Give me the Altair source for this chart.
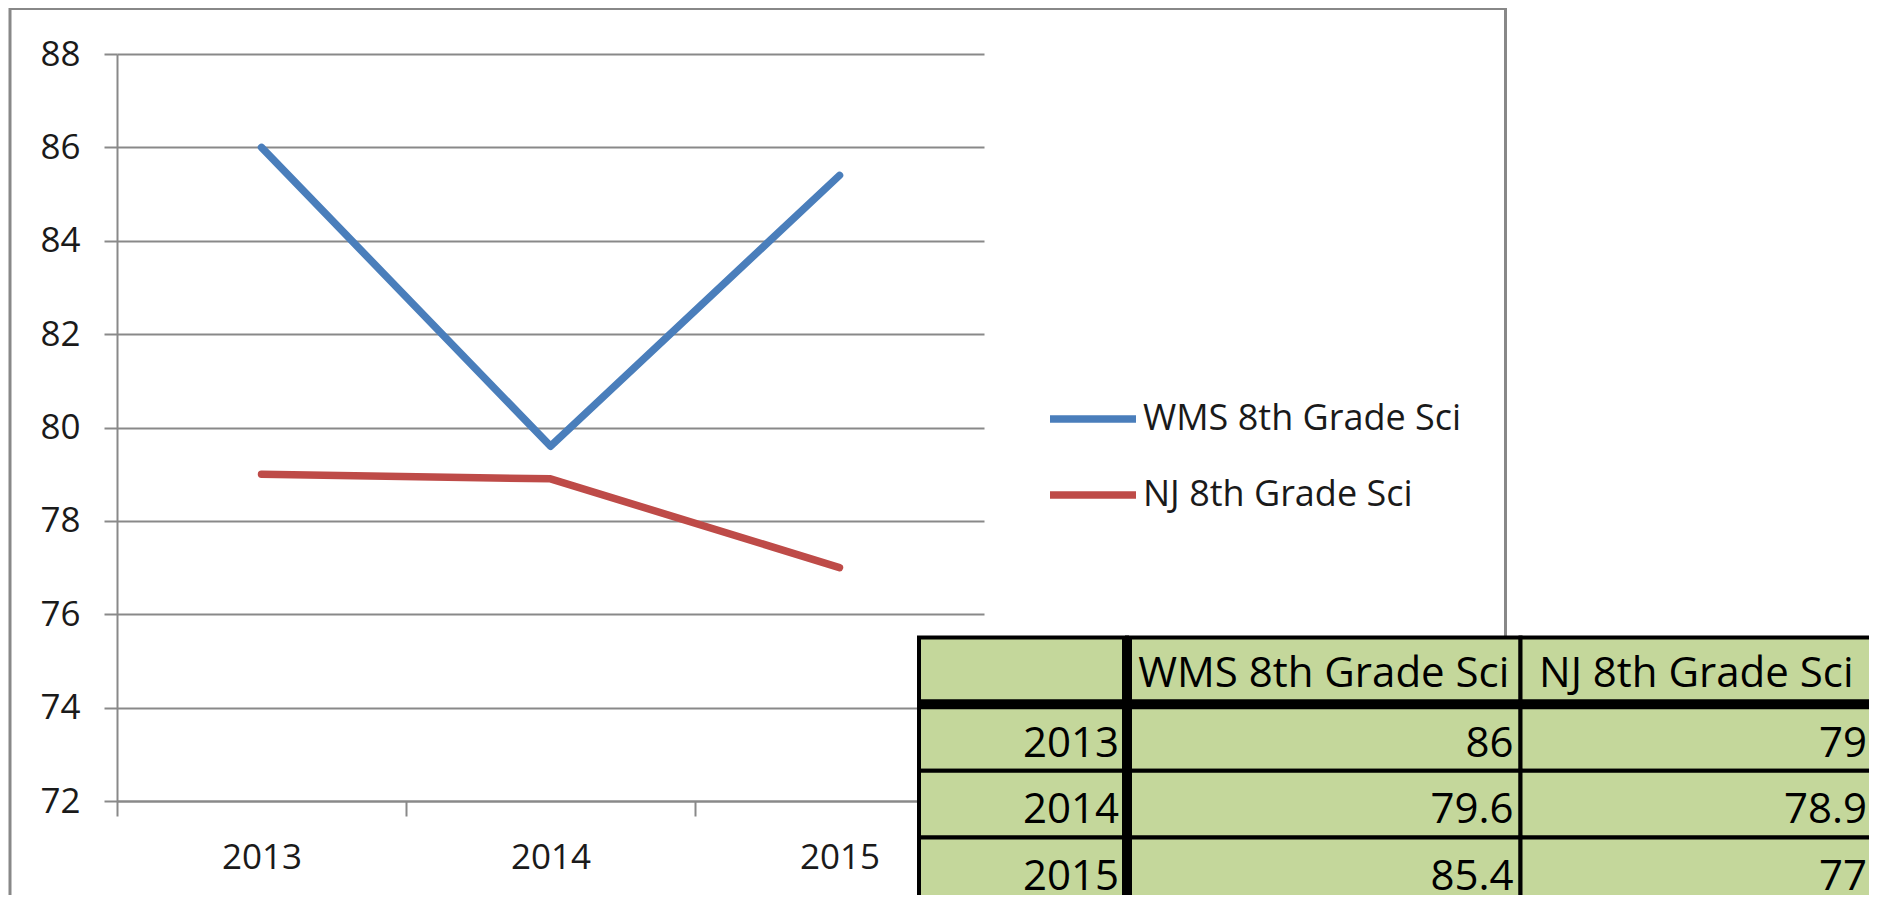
import altair as alt
import pandas as pd

# ---------------- data ----------------
YEARS = ["2013", "2014", "2015"]
SERIES = ["WMS 8th Grade Sci", "NJ 8th Grade Sci"]
WMS_VALUES = [86, 79.6, 85.4]
NJ_VALUES = [79, 78.9, 77]
Y_TICKS = [72, 74, 76, 78, 80, 82, 84, 86, 88]
HEADER_ROW = "header"

# ---------------- styles / layout ----------------
FONT = "Open Sans"
TXT = "#1a1a1a"
GRID = "#898989"
COLORS = ["#4A7EBB", "#BE4B48"]
TABLE_FILL = "#C4D79B"
PLOT_W, PLOT_H = 867, 747
TABLE_COL_EDGES = [0, 208, 601.5, 961]
TABLE_X_RANGE = [802, 1763]
TABLE_Y_RANGE = [583.5, 850]

# ---------------- line chart ----------------
line_df = pd.DataFrame({
    "Year": YEARS * 2,
    "Series": [SERIES[0]] * len(YEARS) + [SERIES[1]] * len(YEARS),
    "Value": WMS_VALUES + NJ_VALUES,
})

lines = alt.Chart(line_df).mark_line(
    strokeWidth=7.5, strokeCap="round", strokeJoin="round"
).encode(
    x=alt.X(
        "Year:N", sort=YEARS,
        scale=alt.Scale(type="band", paddingInner=0, paddingOuter=0),
        axis=alt.Axis(
            title=None, labelAngle=0, tickBand="extent", tickSize=15,
            tickColor=GRID, tickWidth=2, domainColor=GRID, domainWidth=2,
            labelFont=FONT, labelFontSize=35, labelColor=TXT, labelPadding=24,
            grid=False,
        ),
    ),
    y=alt.Y(
        "Value:Q",
        scale=alt.Scale(domain=[Y_TICKS[0], Y_TICKS[-1]], nice=False, zero=False),
        axis=alt.Axis(
            title=None, values=Y_TICKS, tickSize=13, tickColor=GRID, tickWidth=2,
            domainColor=GRID, domainWidth=2, grid=True, gridColor=GRID,
            gridWidth=2, labelFont=FONT, labelFontSize=35, labelColor=TXT,
            labelPadding=24,
        ),
    ),
    color=alt.Color(
        "Series:N", sort=SERIES,
        scale=alt.Scale(domain=SERIES, range=COLORS),
        legend=alt.Legend(
            title=None, orient="none", legendX=929, legendY=345,
            direction="vertical", symbolType="stroke", symbolSize=7396,
            symbolStrokeWidth=7.5, clipHeight=40, rowPadding=36,
            labelFont=FONT, labelFontSize=36, labelColor=TXT, labelOffset=3,
            labelLimit=800, padding=0,
        ),
    ),
)

# ---------------- chart frame ----------------
frame = alt.Chart(pd.DataFrame({"f": [0]})).mark_rect(
    fillOpacity=0, stroke="#888888", strokeWidth=3
).encode(
    x=alt.value(-107), x2=alt.value(1388.5), y=alt.value(-45.5), y2=alt.value(980)
)

# ---------------- data table ----------------
TABLE_ROWS = [HEADER_ROW] + YEARS
tx = alt.Scale(domain=[TABLE_COL_EDGES[0], TABLE_COL_EDGES[-1]], range=TABLE_X_RANGE)
ty = alt.Scale(type="band", domain=TABLE_ROWS, range=TABLE_Y_RANGE,
               paddingInner=0, paddingOuter=0)

cells = []
for r in TABLE_ROWS:
    for c in range(3):
        cells.append({"row": r, "x0": TABLE_COL_EDGES[c], "x1": TABLE_COL_EDGES[c + 1]})
cells_df = pd.DataFrame(cells)

header_df = pd.DataFrame({
    "row": [HEADER_ROW] * 2,
    "text": SERIES,
    "tx": [(TABLE_COL_EDGES[1] + TABLE_COL_EDGES[2]) / 2,
           (TABLE_COL_EDGES[2] + TABLE_COL_EDGES[3]) / 2 - 4],
})

body = []
for i, yr in enumerate(YEARS):
    body.append({"row": yr, "text": yr, "tx": TABLE_COL_EDGES[1] - 8})
    body.append({"row": yr, "text": f"{WMS_VALUES[i]:g}", "tx": TABLE_COL_EDGES[2] - 7})
    body.append({"row": yr, "text": f"{NJ_VALUES[i]:g}", "tx": TABLE_COL_EDGES[3] - 13})
body_df = pd.DataFrame(body)

thick_v_df = pd.DataFrame({"row": TABLE_ROWS, "x0": [TABLE_COL_EDGES[1] - 5] * 4,
                           "x1": [TABLE_COL_EDGES[1] + 5] * 4})
thick_h_df = pd.DataFrame({"row": [HEADER_ROW], "x0": [TABLE_COL_EDGES[0]],
                           "x1": [TABLE_COL_EDGES[-1]]})

cell_rects = alt.Chart(cells_df).mark_rect(
    fill=TABLE_FILL, stroke="black", strokeWidth=4
).encode(
    x=alt.X("x0:Q", scale=tx, axis=None),
    x2="x1:Q",
    y=alt.Y("row:N", scale=ty, axis=None, sort=TABLE_ROWS),
)

thick_v = alt.Chart(thick_v_df).mark_rect(fill="black", stroke=None).encode(
    x=alt.X("x0:Q", scale=tx, axis=None),
    x2="x1:Q",
    y=alt.Y("row:N", scale=ty, axis=None, sort=TABLE_ROWS),
)

thick_h = alt.Chart(thick_h_df).mark_rule(color="black", strokeWidth=10).encode(
    x=alt.X("x0:Q", scale=tx, axis=None),
    x2="x1:Q",
    y=alt.Y("row:N", scale=ty, axis=None, sort=TABLE_ROWS, bandPosition=1),
)

header_text = alt.Chart(header_df).mark_text(
    align="center", baseline="alphabetic", dy=-17, font=FONT, fontSize=42, color="black"
).encode(
    x=alt.X("tx:Q", scale=tx, axis=None),
    y=alt.Y("row:N", scale=ty, axis=None, sort=TABLE_ROWS, bandPosition=1),
    text="text:N",
)

body_text = alt.Chart(body_df).mark_text(
    align="right", baseline="alphabetic", dy=-14, font=FONT, fontSize=42, color="black"
).encode(
    x=alt.X("tx:Q", scale=tx, axis=None),
    y=alt.Y("row:N", scale=ty, axis=None, sort=TABLE_ROWS, bandPosition=1),
    text="text:N",
)

table = alt.layer(cell_rects, thick_v, thick_h, header_text, body_text)

chart = alt.layer(frame, lines, table).resolve_scale(
    x="independent", y="independent"
).properties(
    width=PLOT_W, height=PLOT_H,
    padding={"left": 109, "top": 46, "right": 885, "bottom": 94},
    autosize=alt.AutoSizeParams(type="none"),
    background="white",
).configure_view(strokeWidth=0)

chart.save("out.html", embed_options={"renderer": "svg", "actions": False})
